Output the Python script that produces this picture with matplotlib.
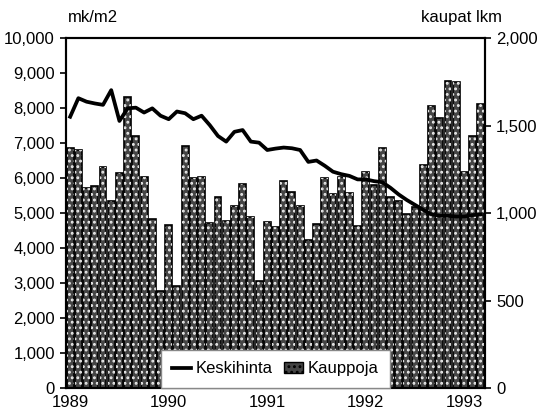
import matplotlib

matplotlib.use("Agg")
import matplotlib.pyplot as plt
from matplotlib.lines import Line2D
from matplotlib.patches import Patch
from matplotlib.ticker import FuncFormatter

plt.rcParams["font.family"] = ["Liberation Sans", "DejaVu Sans"]
plt.rcParams["font.size"] = 12
plt.rcParams["hatch.linewidth"] = 1.3

# monthly data, Jan 1989 - Mar 1993
years = ["1989", "1990", "1991", "1992", "1993"]

kauppoja = [
    1370, 1360, 1145, 1156, 1265, 1070, 1227, 1665, 1442, 1208, 966, 554,
    931, 583, 1383, 1202, 1208, 941, 1090, 956, 1042, 1164, 979, 613,
    947, 918, 1183, 1122, 1040, 846, 937, 1198, 1109, 1204, 1116, 926,
    1236, 1160, 1373, 1093, 1069, 992, 1033, 1274, 1613, 1541, 1756, 1750,
    1236, 1442, 1621,
]

keskihinta = [
    7750, 8280, 8180, 8130, 8090, 8510, 7630, 7990, 8010, 7870, 7990, 7780,
    7680, 7900, 7850, 7680, 7780, 7510, 7200, 7040, 7320, 7370, 7040, 7010,
    6800, 6840, 6870, 6850, 6800, 6460, 6500, 6350, 6180, 6110, 6060, 5960,
    5960, 5910, 5880, 5720, 5530, 5370, 5230, 5090, 4960, 4920, 4920, 4900,
    4900, 4940, 4960,
]

x = list(range(len(kauppoja)))
year_pos = [i * 12 for i in range(len(years))]

fig = plt.figure(figsize=(5.37, 4.13), dpi=100)
ax = fig.add_axes([0.123, 0.0605, 0.78, 0.8475])
ax2 = ax.twinx()

# bars (right scale)
ax.bar(x, kauppoja, width=0.84, facecolor="#454545", edgecolor="black", linewidth=1.2, zorder=2)
ax.bar(x, kauppoja, width=0.84, facecolor="none", edgecolor="#e8e8e8", linewidth=0, hatch="...", zorder=3)
ax.set_xlim(-0.5, len(kauppoja) - 0.5)
ax.set_ylim(0, 2000)
ax.set_yticks([0, 500, 1000, 1500, 2000])
ax.yaxis.tick_right()
ax.yaxis.set_major_formatter(FuncFormatter(lambda v, p: f"{int(v):,}"))
ax.set_xticks(year_pos)
ax.set_xticklabels(years)
ax.tick_params(axis="x", length=0, pad=5)
ax.tick_params(axis="y", length=4, width=1.2, pad=4)

# line (left scale)
ax2.plot(x, keskihinta, color="black", lw=2.7, zorder=4)
ax2.set_ylim(0, 10000)
ax2.set_yticks(range(0, 10001, 1000))
ax2.yaxis.tick_left()
ax2.yaxis.set_major_formatter(FuncFormatter(lambda v, p: f"{int(v):,}"))
ax2.tick_params(axis="y", length=4, width=1.2, pad=4)

for a in (ax, ax2):
    for s in a.spines.values():
        s.set_linewidth(1.5)

handles = [
    Line2D([0], [0], color="black", lw=2.7),
    Patch(facecolor="#454545", edgecolor="black", hatch="..."),
]
leg = ax2.legend(
    handles,
    ["Keskihinta", "Kauppoja"],
    loc="lower center",
    bbox_to_anchor=(0.5, 0),
    ncol=2,
    borderaxespad=0,
    frameon=True,
    fancybox=False,
    edgecolor="#888888",
    framealpha=1,
    fontsize=12,
    handlelength=1.1,
    handletextpad=0.3,
    columnspacing=0.7,
    borderpad=0.7,
)
leg.set_zorder(10)

fig.text(0.127, 0.958, "mk/m2", ha="left", va="center", fontsize=12)
fig.text(0.935, 0.958, "kaupat lkm", ha="right", va="center", fontsize=12)

fig.savefig("out.png", dpi=100)
